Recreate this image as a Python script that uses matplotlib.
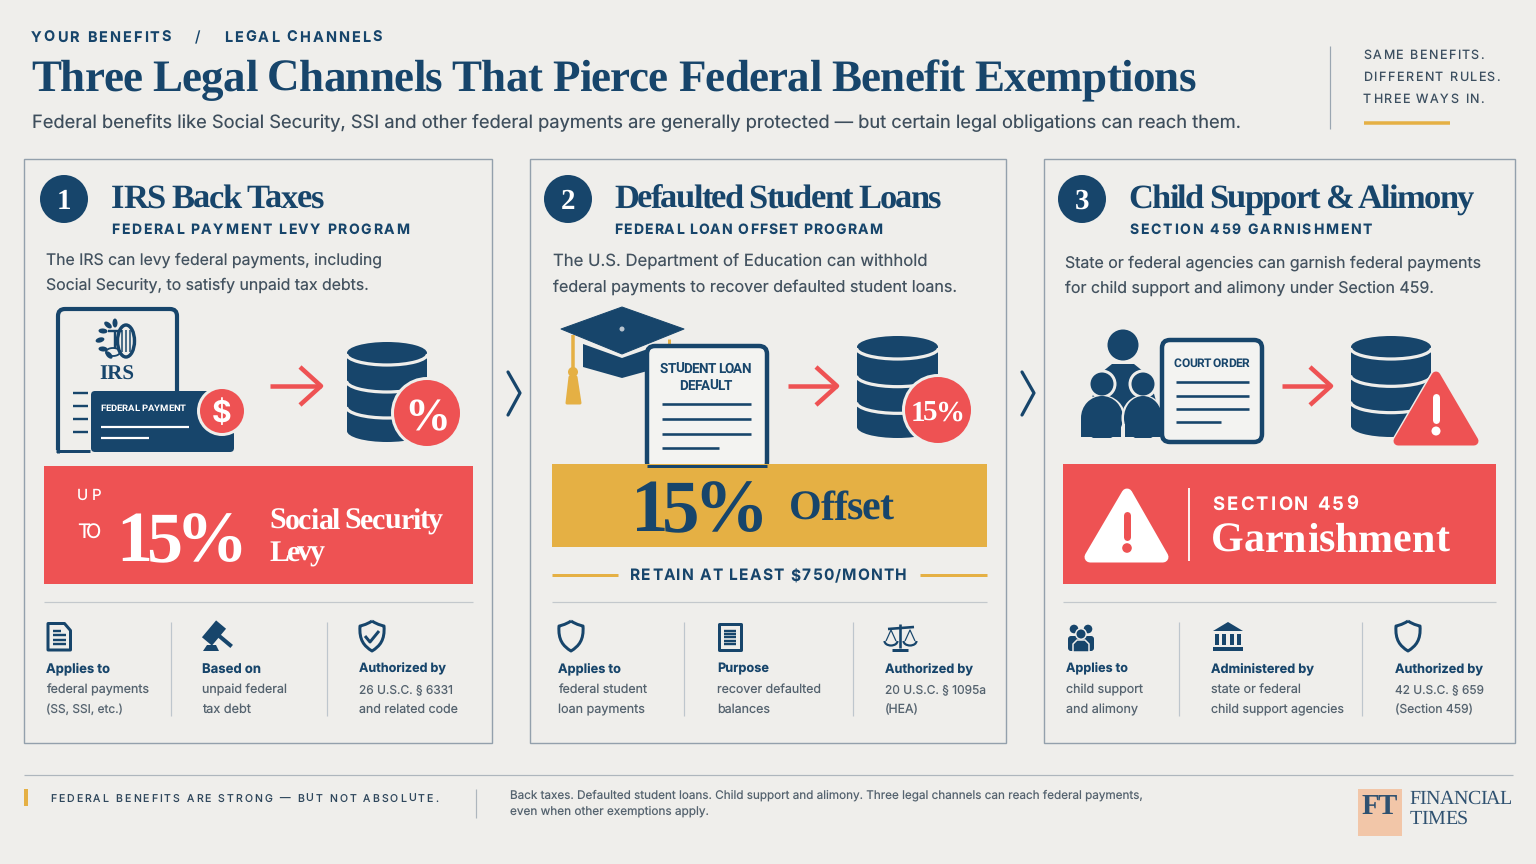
import numpy as np
import matplotlib
matplotlib.use("Agg")
import matplotlib.pyplot as plt
from matplotlib.text import Text
from matplotlib.transforms import Bbox
from matplotlib.path import Path
from matplotlib.patches import FancyBboxPatch, Circle, Ellipse, Polygon, PathPatch, Rectangle, Arc

# ---------- content ----------
CRUMBS = ["YOUR BENEFITS", "/", "LEGAL CHANNELS"]
TITLE = "Three Legal Channels That Pierce Federal Benefit Exemptions"
SUBTITLE = "Federal benefits like Social Security, SSI and other federal payments are generally protected — but certain legal obligations can reach them."
SIDE_NOTE = ["SAME BENEFITS.", "DIFFERENT RULES.", "THREE WAYS IN."]
CARD_TITLES = ["IRS Back Taxes", "Defaulted Student Loans", "Child Support & Alimony"]
CARD_SUBS = ["FEDERAL PAYMENT LEVY PROGRAM", "FEDERAL LOAN OFFSET PROGRAM", "SECTION 459 GARNISHMENT"]
CARD_BODY = [
    ["The IRS can levy federal payments, including", "Social Security, to satisfy unpaid tax debts."],
    ["The U.S. Department of Education can withhold", "federal payments to recover defaulted student loans."],
    ["State or federal agencies can garnish federal payments", "for child support and alimony under Section 459."],
]
LEVY_PCT = 15
OFFSET_PCT = 15
RETAIN_MONTHLY = 750
FACTS = [
    [("Applies to", "federal payments", "(SS, SSI, etc.)"), ("Based on", "unpaid federal", "tax debt"),
     ("Authorized by", "26 U.S.C. § 6331", "and related code")],
    [("Applies to", "federal student", "loan payments"), ("Purpose", "recover defaulted", "balances"),
     ("Authorized by", "20 U.S.C. § 1095a", "(HEA)")],
    [("Applies to", "child support", "and alimony"), ("Administered by", "state or federal", "child support agencies"),
     ("Authorized by", "42 U.S.C. § 659", "(Section 459)")],
]
FOOT_LEFT = "FEDERAL BENEFITS ARE STRONG — BUT NOT ABSOLUTE."
FOOT_RIGHT = ["Back taxes. Defaulted student loans. Child support and alimony. Three legal channels can reach federal payments,",
              "even when other exemptions apply."]

# ---------- style ----------
BG = "#EFEEEB"; NAVY = "#17456B"; RED = "#EE5253"; GOLD = "#E5B044"; GREY = "#43525F"
RULE = "#C3C8CC"; EDGE = "#93A0AC"; PAPER = "#F3F3F1"
SANS = ["Inter", "DejaVu Sans"]; SERIF = ["Liberation Serif", "DejaVu Serif"]; COND = ["Roboto", "DejaVu Sans"]
plt.rcParams["text.hinting"] = "no_hinting"

fig = plt.figure(figsize=(15.36, 8.64), dpi=100, facecolor=BG)
ax = fig.add_axes([0, 0, 1, 1]); ax.set_xlim(0, 1536); ax.set_ylim(864, 0); ax.axis("off")
renderer = fig.canvas.get_renderer()
_z = [10]
def z():
    _z[0] += 1
    return _z[0]
PX = 72 / 100.0

class Tracked(Text):
    """One text whose glyphs are spread to a target width."""
    def __init__(self, x, y, s, width, **kw):
        super().__init__(x, y, s, **kw)
        self.target = width
    def draw(self, r):
        s = self.get_text(); x0 = self.get_position()[0]; fp = self.get_fontproperties()
        W = lambda t: r.get_text_width_height_descent(t, fp, False)[0]
        tr = (self.target - W(s)) / max(1, len(s) - 1)
        for i, ch in enumerate(s):
            if ch == " ":
                continue
            off = W(s[:i + 1]) - W(ch) + i * tr
            self.set_text(ch); self.set_x(x0 + off)
            super().draw(r)
        self.set_text(s); self.set_x(x0)
    def get_window_extent(self, renderer=None, dpi=None):
        bb = super().get_window_extent(renderer, dpi)
        return Bbox.from_extents(bb.x0, bb.y0, bb.x0 + self.target, bb.y1)

def track(x, y, s, x1, px, color=NAVY, fam=SANS, weight="bold"):
    t = Tracked(x - 1, y, s, x1 - x, fontsize=px * PX, color=color, family=fam, weight=weight,
                va="baseline", ha="left", zorder=z())
    ax.add_artist(t)
    return t

def fit(x, y, s, x1, color=GREY, fam=SANS, weight="normal"):
    t = ax.text(x, y, s, fontsize=10, color=color, family=fam, weight=weight, va="baseline", ha="left", zorder=z())
    w = t.get_window_extent(renderer).width
    t.set_fontsize(10 * (x1 - x) / w)
    return t

def rect(x0, y0, x1, y1, fc, ec="none", lw=0, r=0):
    if r:
        p = FancyBboxPatch((x0, y0), x1 - x0, y1 - y0, boxstyle=f"round,pad=0,rounding_size={r}",
                           fc=fc, ec=ec, lw=lw, zorder=z())
    else:
        p = Rectangle((x0, y0), x1 - x0, y1 - y0, fc=fc, ec=ec, lw=lw, zorder=z())
    ax.add_patch(p)

def line(xs, ys, c=NAVY, lw=2, cap="butt"):
    ax.plot(xs, ys, color=c, lw=lw * PX, solid_capstyle=cap, solid_joinstyle="round", zorder=z())

def circ(x, y, r, fc=NAVY, ec="none", lw=0):
    ax.add_patch(Circle((x, y), r, fc=fc, ec=ec, lw=lw * PX, zorder=z()))

def ell(x, y, w, h, fc=NAVY, angle=0):
    ax.add_patch(Ellipse((x, y), w, h, angle=angle, fc=fc, ec="none", zorder=z()))

def poly(pts, fc=NAVY, ec="none", lw=0):
    ax.add_patch(Polygon(pts, closed=True, fc=fc, ec=ec, lw=lw * PX, joinstyle="round", zorder=z()))

def arrow(x0, x1, y=386):
    line([x0, x1], [y, y], RED, 4.5)
    line([x1 - 21, x1, x1 - 21], [y - 19, y, y + 19], RED, 4.5)

def database(x0, x1, top, bottom):
    cx = (x0 + x1) / 2; w = x1 - x0; ry = 11
    rect(x0, top + ry, x1, bottom - ry, NAVY)
    ell(cx, top + ry, w, 2 * ry)
    ell(cx, bottom - ry, w, 2 * ry)
    step = (bottom - top - 2 * ry) / 3
    for k in range(3):
        ax.add_patch(Arc((cx, top + ry + k * step + (2 if k else 1)), w + 1, 2 * ry, theta1=0, theta2=180,
                         ec=BG, lw=3.2 * PX, zorder=z()))

def shield(cx, cy, s, lw=3):
    verts = [(cx, cy - 15 * s), (cx + 6 * s, cy - 11 * s), (cx + 12 * s, cy - 10 * s), (cx + 12 * s, cy - 10 * s),
             (cx + 13 * s, cy + 4 * s), (cx + 8 * s, cy + 10 * s), (cx, cy + 15 * s),
             (cx - 8 * s, cy + 10 * s), (cx - 13 * s, cy + 4 * s), (cx - 12 * s, cy - 10 * s),
             (cx - 12 * s, cy - 10 * s), (cx - 6 * s, cy - 11 * s), (cx, cy - 15 * s)]
    codes = [Path.MOVETO] + [Path.CURVE4] * 12
    ax.add_patch(PathPatch(Path(verts, codes), fc="none", ec=NAVY, lw=lw * PX, joinstyle="round", zorder=z()))

def rot_rect(cx, cy, w, h, deg, fc=NAVY):
    a = np.radians(deg); c, s = np.cos(a), np.sin(a)
    pts = [(cx + dx * c - dy * s, cy + dx * s + dy * c) for dx, dy in
           [(-w / 2, -h / 2), (w / 2, -h / 2), (w / 2, h / 2), (-w / 2, h / 2)]]
    poly(pts, fc=fc)

def doc_lines(x0, x1, x_short, ys, lw=2.6):
    for i, y in enumerate(ys):
        line([x0, x_short if i == len(ys) - 1 else x1], [y, y], NAVY, lw)

# ---------- header ----------
track(32, 42, CRUMBS[0], 172, 14.5)
track(196, 42, CRUMBS[1], 202, 15, weight="normal")
track(225, 42, CRUMBS[2], 383, 14.5)
track(32, 91, TITLE, 1197, 45, fam=SERIF)
fit(32, 128, SUBTITLE, 1241, color="#3E4E5C")
line([1330, 1330], [46, 129], "#9AA6B1", 1.2)
for y, s, x1 in zip([59, 81, 103], SIDE_NOTE, [1485, 1501, 1485]):
    track(1364, y, s, x1, 12.5, color="#3C4F60", weight="normal")
line([1364, 1450], [123, 123], GOLD, 3.5)

# ---------- cards ----------
CARD_X = [(24, 492), (530, 1006), (1044, 1515)]
for x0, x1 in CARD_X:
    rect(x0, 159, x1, 743, "none", EDGE, 1.0)
NUM_X = [64, 568, 1082]
TITLE_X = [(112, 325), (615, 942), (1129, 1475)]
SUB_X = [(112, 410), (615, 883), (1130, 1373)]
BODY_POS = [[(46, 382, 265), (46, 369, 290)], [(553, 928, 267), (553, 957, 292)], [(1065, 1481, 268), (1065, 1434, 293)]]
for i in range(3):
    circ(NUM_X[i], 199, 24)
    ax.text(NUM_X[i], 209, str(i + 1), color="white", fontsize=29 * PX, family=SERIF, weight="bold",
            ha="center", va="baseline", zorder=z())
    track(TITLE_X[i][0], 208, CARD_TITLES[i], TITLE_X[i][1], 34.5, fam=SERIF)
    track(SUB_X[i][0], 234, CARD_SUBS[i], SUB_X[i][1], 14)
    for s, (a, b, y) in zip(CARD_BODY[i], BODY_POS[i]):
        fit(a, y, s, b)

# chevrons
for x in (508, 1022):
    line([x, x + 12, x], [372, 393, 415], NAVY, 3.2, "round")

# ---------- illustration 1 ----------
rect(58, 309, 177, 470, "none", NAVY, 3, r=7)
rect(50, 450, 240, 475, BG)
line([57.5, 57.5], [440, 452.5], NAVY, 3)
line([56, 90], [451, 451], NAVY, 3)
for y in (393, 406, 419, 432):
    line([73, 88], [y, y], NAVY, 2.4)
# seal
ax.add_patch(Ellipse((126, 341), 17, 32, fc="none", ec=NAVY, lw=3.4 * PX, zorder=z()))
for dx in (122, 126, 130):
    line([dx, dx], [330, 352], NAVY, 1.5)
for (a, b) in [(103, 331), (100, 340), (103, 349), (109, 355), (108, 325), (115, 323)]:
    ell(a, b, 9, 5, angle=(a - 108) * 7 + 40)
line([108, 122], [331, 331], NAVY, 2.4); line([115, 115], [331, 349], NAVY, 2.4)
ax.add_patch(Arc((113, 352), 14, 8, theta1=0, theta2=360, ec=NAVY, lw=1.8 * PX, zorder=z()))
fit(99, 380, "IRS", 134, color=NAVY, fam=SERIF, weight="bold")
rect(91, 391, 234, 452, NAVY, r=4)
track(101, 411, "FEDERAL PAYMENT", 187, 9.5, color="white", fam=COND, weight="bold")
line([101, 189], [427, 427], "white", 2.2)
line([101, 149], [438, 438], "white", 2.2)
circ(222, 411, 25, fc=BG); circ(222, 411, 22, fc=RED)
ax.text(222, 422, "$", color="white", fontsize=30 * PX, family=SANS, weight="bold", ha="center", va="baseline", zorder=z())
arrow(270, 321)
database(347, 427, 342, 442)
circ(427, 413, 36, fc=BG); circ(427, 413, 33, fc=RED)
ax.text(427, 430, "%", color="white", fontsize=46 * PX, family=SERIF, weight="bold", ha="center", va="baseline", zorder=z())

# banner 1
rect(44, 466, 473, 584, RED)
track(78, 500, "UP", 102, 15, color="white", weight="normal")
track(78, 538, "TO", 102, 20, color="white", weight="normal")
track(117, 561, f"{LEVY_PCT}%", 249, 72, color="white", fam=SERIF)
track(270, 529, "Social Security", 444, 30, color="white", fam=SERIF)
track(270, 561, "Levy", 326, 30, color="white", fam=SERIF)

# ---------- illustration 2 ----------
poly([(583, 344), (622, 358), (662, 344), (662, 367), (622, 378), (583, 367)])
poly([(561, 329), (622, 307), (684, 329), (622, 354)], ec=NAVY, lw=1)
circ(622, 329, 2.5, fc="#B9C4CE")
line([573, 573], [335, 372], GOLD, 3.5)
circ(573, 372, 5, fc=GOLD)
poly([(570, 377), (576, 377), (580, 403), (567, 403)], fc=GOLD, ec=GOLD, lw=3)
line([669, 669], [339, 346], GOLD, 3)
rect(647, 346, 767, 470, PAPER, NAVY, 3.2, r=8)
track(661, 373, "STUDENT LOAN", 752, 13.5, fam=COND, weight="bold")
track(680, 390, "DEFAULT", 733, 13.5, fam=COND, weight="bold")
doc_lines(662, 751, 719, [404, 419, 434, 448])
arrow(788, 837)
database(857, 938, 336, 438)
circ(938, 410, 36, fc=BG); circ(938, 410, 33, fc=RED)
track(912, 421, f"{OFFSET_PCT}%", 965, 29, color="white", fam=SERIF)

# banner 2
rect(552, 464, 987, 547, GOLD)
line([647, 767], [465.5, 465.5], NAVY, 3)
track(632, 531, f"{OFFSET_PCT}%", 769, 75, fam=SERIF)
track(790, 520, "Offset", 894, 42, fam=SERIF)
line([552, 618], [575, 575], GOLD, 3)
line([920, 987], [575, 575], GOLD, 3)
track(631, 580, f"RETAIN AT LEAST ${RETAIN_MONTHLY}/MONTH", 908, 15.5)

# ---------- illustration 3 ----------
circ(1123, 345, 15.5)
poly([(1090, 408), (1097, 376), (1112, 364), (1134, 364), (1149, 376), (1158, 408), (1158, 430), (1090, 430)])
for cx, wd, bx0, bx1 in ((1102, 42, 1081, 1121), (1143, 38, 1125, 1160)):
    ell(cx, 384, 29, 29, fc=BG)
    ell(cx, 418, wd + 5, 46, fc=BG)
    ell(cx, 384, 23, 23)
    ell(cx, 418, wd, 44)
    rect(bx0, 418, bx1, 437, NAVY)
rect(1078, 437.5, 1165, 445, BG)
rect(1121.5, 424, 1124.5, 437.5, BG)
rect(1162, 340, 1262, 442, PAPER, NAVY, 3.2, r=8)
track(1175, 367, "COURT ORDER", 1250, 12, fam=COND, weight="bold")
doc_lines(1176, 1249, 1221, [382, 396, 409, 422])
arrow(1282, 1331)
database(1351, 1431, 336, 437)
poly([(1436, 368), (1482, 447), (1390, 447)], fc=BG, ec=BG, lw=4)
poly([(1436, 376), (1474, 441), (1398, 441)], fc=RED, ec=RED, lw=9)
line([1436, 1436], [397, 420], "white", 7, "round")
circ(1436, 431, 4.5, fc="white")

# banner 3
rect(1063, 464, 1496, 584, RED)
poly([(1127, 494), (1163, 557), (1090, 557)], fc="white", ec="white", lw=11)
line([1127, 1127], [515, 537], RED, 7, "round")
circ(1127, 548, 4.8, fc=RED)
line([1189, 1189], [488, 561], "white", 1.8)
track(1213, 510, "SECTION 459", 1359, 18.5, color="white", weight="bold")
track(1212, 552, "Garnishment", 1450, 42, color="white", fam=SERIF)

# ---------- facts ----------
for a, b in ((44, 473), (552, 987), (1063, 1496)):
    line([a, b], [602, 602], RULE, 1.2)
VLINES = [[171, 327], [684, 853], [1179, 1362]]
for vs in VLINES:
    for v in vs:
        line([v, v], [622, 716], "#BEC6CD", 1.2)
FACT_X = [
    [(46, 110, 149, 123), (202, 261, 287, 251), (359, 446, 453, 458)],
    [(558, 621, 647, 645), (717, 769, 821, 770), (885, 973, 986, 919)],
    [(1066, 1128, 1143, 1138), (1211, 1314, 1301, 1344), (1395, 1483, 1484, 1473)],
]
for card, xs in zip(FACTS, FACT_X):
    for (h, a, b), (x, xh, xa, xb) in zip(card, xs):
        fit(x, 672.6, h, xh, color=NAVY, weight="bold")
        fit(x, 693, a, xa, color="#55636F")
        fit(x, 713, b, xb, color="#55636F")

def mini_doc(x0, y0, x1, y1, n=4, fold=True):
    pts = [(x0, y0), (x1 - 6, y0), (x1, y0 + 7), (x1, y1), (x0, y1)] if fold else [(x0, y0), (x1, y0), (x1, y1), (x0, y1)]
    poly(pts, fc="none", ec=NAVY, lw=3)
    for k in range(n):
        y = y0 + 7 + k * (y1 - y0 - 13) / (n - 1)
        line([x0 + 5, x1 - 5 - (5 if (k == 0 and fold) else 0)], [y, y], NAVY, 2.4)
mini_doc(48, 623.5, 70.5, 650)
# gavel
rot_rect(214, 633, 13, 22, 40)
rot_rect(224, 640, 20, 4, 40)
poly([(203, 651), (207, 645), (216, 645), (219, 651)])
# shield with check
shield(372, 636, 1.0)
line([365, 370, 379], [636, 642, 631], NAVY, 3)
shield(571, 636, 1.0)
mini_doc(719, 623.5, 741, 650, n=5, fold=False)
# scales
line([900, 900], [624, 648], NAVY, 2.6)
line([888, 914], [629, 627], NAVY, 2.6)
line([892, 908], [650, 650], NAVY, 3)
for cx in (891, 910):
    line([cx - 5, cx, cx + 5], [641, 630, 641], NAVY, 1.2)
    ax.add_patch(Arc((cx, 641), 13, 9, theta1=0, theta2=180, ec=NAVY, lw=2.2 * PX, zorder=z()))
# people
for cx, cy in ((1074, 629), (1088, 629)):
    circ(cx, cy, 4.3)
rect(1068, 636, 1094, 651, NAVY, r=3)
circ(1081, 634, 6, fc=BG); circ(1081, 634, 4.5)
poly([(1073, 652), (1073, 644), (1077, 640), (1085, 640), (1089, 644), (1089, 652)], ec=BG, lw=1.5)
# bank
poly([(1228, 622), (1243, 631), (1213, 631)])
for x in (1217, 1224, 1232, 1239):
    rect(x - 1.7, 634, x + 1.7, 645, NAVY)
rect(1213, 647, 1243, 651, NAVY)
shield(1408, 636, 1.0)

# ---------- footer ----------
line([24, 1513], [775, 775], "#AEB6BD", 1.2)
rect(24, 789, 27.5, 806, GOLD)
track(51, 802, FOOT_LEFT, 439, 10.5, color="#2F475C", weight="normal")
line([476, 476], [789, 818], "#AEB6BD", 1.2)
fit(510, 798, FOOT_RIGHT[0], 1143, color="#55636F")
fit(510, 815, FOOT_RIGHT[1], 709, color="#55636F")
rect(1358, 789, 1402, 836, "#F2C6A8")
track(1363, 814, "FT", 1398, 29, color="#2F5170", fam=SERIF)
track(1410, 804, "FINANCIAL", 1513, 20, color="#2F5170", fam=SERIF, weight="normal")
track(1411, 824, "TIMES", 1469, 20, color="#2F5170", fam=SERIF, weight="normal")

fig.savefig("out.png", dpi=100, facecolor=BG)
